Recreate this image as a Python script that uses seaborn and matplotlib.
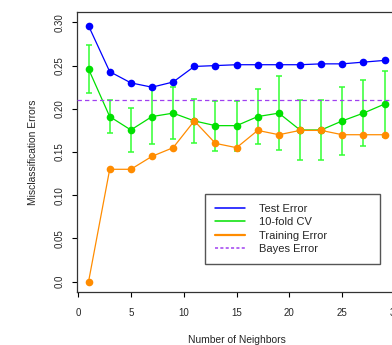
import numpy as np
import pandas as pd
import seaborn as sns
import matplotlib.pyplot as plt
from matplotlib.lines import Line2D

# values
neighbors = [1, 3, 5, 7, 9, 11, 13, 15, 17, 19, 21, 23, 25, 27, 29]
test_err = [0.296, 0.243, 0.230, 0.225, 0.231, 0.249, 0.250, 0.251, 0.251, 0.251,
            0.251, 0.252, 0.252, 0.254, 0.256]
cv_err = [0.246, 0.191, 0.1755, 0.191, 0.195, 0.186, 0.1805, 0.1805, 0.191, 0.195,
          0.1755, 0.1755, 0.186, 0.195, 0.2055]
cv_sd = [0.0275, 0.0195, 0.026, 0.032, 0.030, 0.025, 0.029, 0.029, 0.032, 0.043,
         0.035, 0.035, 0.039, 0.038, 0.038]
train_err = [0.0, 0.130, 0.130, 0.145, 0.155, 0.186, 0.160, 0.155, 0.175, 0.170,
             0.175, 0.175, 0.170, 0.170, 0.170]
bayes_err = 0.21

df = pd.DataFrame({'k': neighbors, 'test': test_err, 'cv': cv_err,
                   'sd': cv_sd, 'train': train_err})

sns.set_style('ticks')
plt.rcParams['font.family'] = ['Liberation Sans', 'DejaVu Sans']

blue = '#0000FF'
green = '#00E000'
orange = '#FF8C00'
purple = '#A040F0'

fig = plt.figure(figsize=(3.92, 3.45), dpi=100)
ax = fig.add_axes([0.1957, 0.1536, 0.8156, 0.8116])

sns.lineplot(data=df, x='k', y='test', ax=ax, color=blue, lw=0.9,
             marker='o', markersize=5.5, markeredgewidth=0, zorder=3)
ax.errorbar(df['k'], df['cv'], yerr=df['sd'], fmt='none', ecolor='#33FF33',
            elinewidth=1.1, capsize=2.4, capthick=1.1, zorder=2)
sns.lineplot(data=df, x='k', y='cv', ax=ax, color=green, lw=0.9,
             marker='o', markersize=5.5, markeredgewidth=0, zorder=3)
sns.lineplot(data=df, x='k', y='train', ax=ax, color=orange, lw=0.9,
             marker='o', markersize=5.5, markeredgewidth=0, zorder=4)
ax.axhline(bayes_err, color=purple, lw=0.9, ls=(0, (3.5, 2.5)), zorder=5)

ax.set_xlim(-0.12, 30.12)
ax.set_ylim(-0.012, 0.312)
ax.set_xticks([0, 5, 10, 15, 20, 25, 30])
ax.set_xticklabels(['0', '5', '10', '15', '20', '25', '30'], fontsize=7)
yt = [0.0, 0.05, 0.10, 0.15, 0.20, 0.25, 0.30]
ax.set_yticks(yt)
ax.set_yticklabels(['0.0', '0.05', '0.10', '0.15', '0.20', '0.25', '0.30'],
                   fontsize=7, rotation=90, va='center')
ax.tick_params(axis='both', direction='out', length=3.6, width=0.8, color='black')
ax.tick_params(axis='x', pad=8)
ax.tick_params(axis='y', pad=5)
for s in ['left', 'bottom', 'top', 'right']:
    ax.spines[s].set_color('#333333')
    ax.spines[s].set_linewidth(0.9)

ax.set_xlabel('Number of Neighbors', fontsize=7.4, labelpad=12)
ax.set_ylabel('Misclassification Errors', fontsize=7.4, labelpad=12)

handles = [Line2D([], [], color=blue, lw=1.1),
           Line2D([], [], color=green, lw=1.1),
           Line2D([], [], color=orange, lw=1.6),
           Line2D([], [], color=purple, lw=1.1, ls=(0, (2, 1.5)))]
labels = ['Test Error', '10-fold CV', 'Training Error', 'Bayes Error']
leg = fig.legend(handles, labels, loc='upper left',
                 bbox_to_anchor=(0.523, 0.2, 0.4464, 0.2377), mode='expand',
                 borderaxespad=0, fontsize=8, handlelength=2.7, handletextpad=1.3,
                 labelspacing=0.3, borderpad=0.9, fancybox=False, framealpha=1)
leg.get_frame().set_edgecolor('#555555')
leg.get_frame().set_linewidth(1.0)

fig.savefig('out.png', dpi=100)
